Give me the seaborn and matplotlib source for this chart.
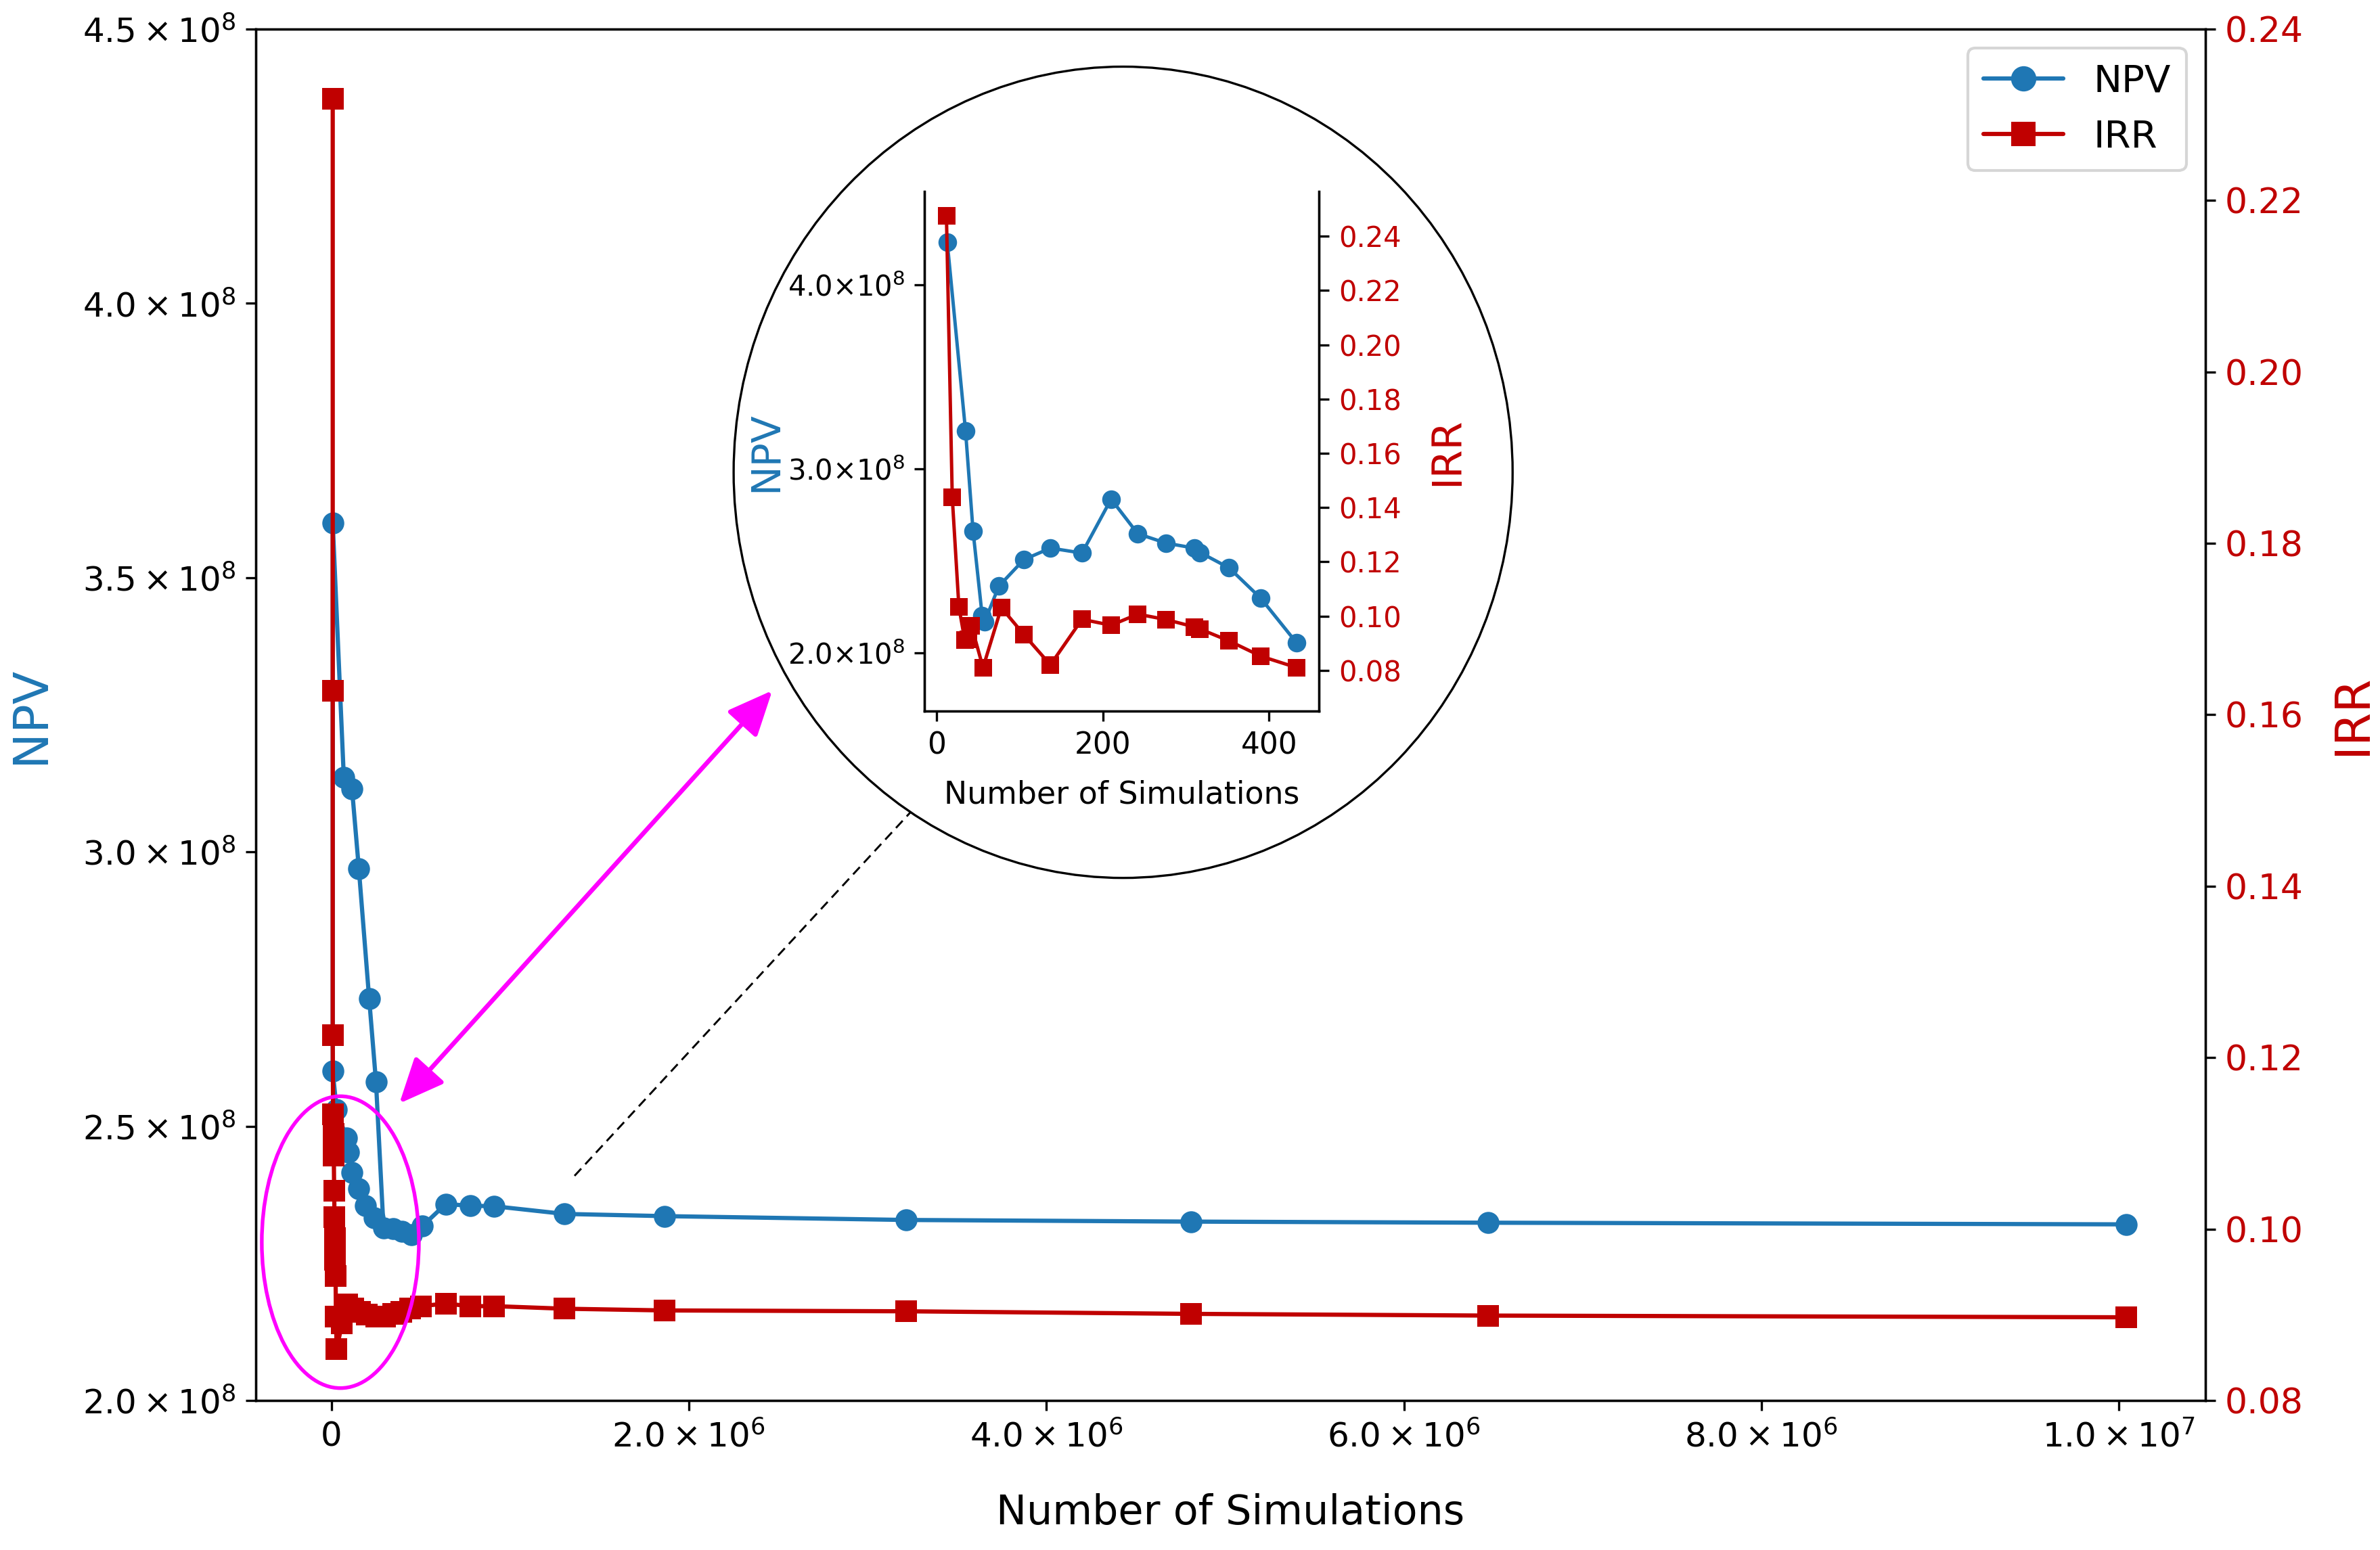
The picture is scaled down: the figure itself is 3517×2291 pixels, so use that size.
import matplotlib
matplotlib.use("Agg")
import matplotlib.pyplot as plt
import seaborn as sns
from matplotlib.patches import Ellipse, FancyArrowPatch
from matplotlib.lines import Line2D

# ---------------- data ----------------
series_names = ["NPV", "IRR"]

# main chart, NPV (points listed in drawing order)
npv_x = [240000, 190000, 154000, 117000, 95000, 85000, 30000, 8000, 8000,
         70000, 116000, 154000, 212000, 250000, 292000, 345000, 395000,
         447000, 510000, 640000, 776000, 912000, 1305000, 1866000, 3215000,
         4810000, 6470000, 10040000]
npv_y = [2.333e8, 2.355e8, 2.386e8, 2.416e8, 2.453e8, 2.478e8, 2.53e8, 2.60e8,
         3.60e8, 3.136e8, 3.115e8, 2.97e8, 2.732e8, 2.581e8, 2.315e8, 2.313e8,
         2.308e8, 2.302e8, 2.318e8, 2.358e8, 2.355e8, 2.354e8, 2.340e8,
         2.336e8, 2.329e8, 2.326e8, 2.324e8, 2.321e8]

# main chart, IRR
irr_x = [8000, 8000, 8000, 10000, 12000, 14000, 16000, 18000, 20000, 22000,
         24000, 26000, 30000, 60000, 90000, 124000, 160000, 200000, 250000,
         300000, 345000, 390000, 440000, 500000, 640000, 776000, 912000,
         1305000, 1866000, 3215000, 4810000, 6470000, 10040000]
irr_y = [0.2319, 0.1628, 0.1226, 0.1134, 0.1111, 0.1086, 0.1045, 0.1014,
         0.0989, 0.0964, 0.0945, 0.0898, 0.0860, 0.0890, 0.0912, 0.0907,
         0.0903, 0.0900, 0.0898, 0.0898, 0.0901, 0.0903, 0.0907, 0.0910,
         0.0913, 0.0910, 0.0910, 0.0907, 0.0905, 0.0904, 0.0901, 0.0899,
         0.0897]

# inset (first ~440 simulations)
inset_npv_x = [13, 35, 44, 55, 58, 75, 105, 137, 175, 210, 242, 276, 310,
               317, 352, 390, 433]
inset_npv_y = [4.23e8, 3.204e8, 2.662e8, 2.20e8, 2.17e8, 2.362e8, 2.506e8,
               2.569e8, 2.542e8, 2.835e8, 2.647e8, 2.596e8, 2.569e8, 2.545e8,
               2.461e8, 2.296e8, 2.054e8]
inset_irr_x = [12, 19, 27, 34, 38, 42, 56, 78, 105, 137, 175, 210, 242, 276,
               310, 317, 352, 390, 433]
inset_irr_y = [0.2476, 0.1438, 0.1033, 0.0912, 0.0915, 0.0965, 0.0810,
               0.1031, 0.0932, 0.0820, 0.0988, 0.0966, 0.1007, 0.0987,
               0.0960, 0.0952, 0.0908, 0.0852, 0.0810]

# ticks and tick labels
x_ticks = [0, 2e6, 4e6, 6e6, 8e6, 1e7]
x_tick_labels = ["0", r"$2.0\times10^{6}$", r"$4.0\times10^{6}$",
                 r"$6.0\times10^{6}$", r"$8.0\times10^{6}$", r"$1.0\times10^{7}$"]
npv_ticks = [2.0e8, 2.5e8, 3.0e8, 3.5e8, 4.0e8, 4.5e8]
npv_tick_labels = [r"$2.0\times10^{8}$", r"$2.5\times10^{8}$", r"$3.0\times10^{8}$",
                   r"$3.5\times10^{8}$", r"$4.0\times10^{8}$", r"$4.5\times10^{8}$"]
irr_ticks = [0.08, 0.10, 0.12, 0.14, 0.16, 0.18, 0.20, 0.22, 0.24]
irr_tick_labels = ["0.08", "0.10", "0.12", "0.14", "0.16", "0.18", "0.20",
                   "0.22", "0.24"]
inset_x_ticks = [0, 200, 400]
inset_x_tick_labels = ["0", "200", "400"]
inset_npv_ticks = [2.0e8, 3.0e8, 4.0e8]
inset_npv_tick_labels = [r"$2.0{\times}10^{8}$", r"$3.0{\times}10^{8}$",
                         r"$4.0{\times}10^{8}$"]
inset_irr_ticks = irr_ticks
inset_irr_tick_labels = irr_tick_labels

x_label = "Number of Simulations"

# ---------------- style ----------------
BLUE = "#1f77b4"
RED = "#c00000"
MAGENTA = "#ff00ff"

sns.set_style("ticks")
plt.rcParams.update({
    "font.family": ["DejaVu Sans"],
    "mathtext.fontset": "dejavusans",
    "axes.edgecolor": "black",
    "axes.labelcolor": "black",
    "text.color": "black",
    "xtick.color": "black",
    "ytick.color": "black",
    "axes.linewidth": 0.8,
    "xtick.major.width": 0.8,
    "ytick.major.width": 0.8,
    "xtick.major.size": 3.5,
    "ytick.major.size": 3.5,
    "xtick.direction": "out",
    "ytick.direction": "out",
})

fig = plt.figure(figsize=(3517 / 300, 2291 / 300), dpi=300)

# ---------------- main axes ----------------
ax = fig.add_axes([0.1075, 0.0965, 0.8191, 0.8847])
ax2 = ax.twinx()

sns.lineplot(x=npv_x, y=npv_y, ax=ax, sort=False, estimator=None,
             errorbar=None, color=BLUE, marker="o", markersize=7.8,
             markeredgecolor=BLUE, markeredgewidth=0, linewidth=1.5,
             legend=False)
sns.lineplot(x=irr_x, y=irr_y, ax=ax2, sort=False, estimator=None,
             errorbar=None, color=RED, marker="s", markersize=7.5,
             markeredgecolor=RED, markeredgewidth=0, linewidth=1.5,
             legend=False)

ax.set_xlim(-0.422e6, 10.483e6)
ax.set_ylim(2.0e8, 4.5e8)
ax2.set_ylim(0.08, 0.24)

ax.set_xticks(x_ticks)
ax.set_xticklabels(x_tick_labels, fontsize=12)
ax.set_yticks(npv_ticks)
ax.set_yticklabels(npv_tick_labels, fontsize=12)
ax2.set_yticks(irr_ticks)
ax2.set_yticklabels(irr_tick_labels, fontsize=12.5, color=RED)

ax.set_xlabel(x_label, fontsize=14.5, labelpad=14)
ax.set_ylabel(series_names[0], fontsize=17, color=BLUE, labelpad=10)
ax2.set_ylabel(series_names[1], fontsize=17, color=RED, labelpad=9)

for a in (ax, ax2):
    for s in a.spines.values():
        s.set_visible(True)
        s.set_color("black")
        s.set_linewidth(0.8)

h_npv = ax.lines[0]
h_irr = ax2.lines[0]
leg = ax2.legend([h_npv, h_irr], series_names, loc="upper right",
                 fontsize=13.5, handlelength=2.1, markerscale=1.15,
                 frameon=True, fancybox=True, edgecolor="0.8",
                 framealpha=0.8, borderaxespad=0.5)

# ---------------- inset "magnifier" ----------------
circle = Ellipse((0.4719, 0.6953), width=0.3273, height=0.5234,
                 transform=fig.transFigure, facecolor="white",
                 edgecolor="black", linewidth=0.8, zorder=2)
fig.add_artist(circle)

axi = fig.add_axes([0.3884, 0.5413, 0.1659, 0.3350])
axi.set_zorder(5)
axi.patch.set_visible(False)
axi2 = axi.twinx()
axi2.set_zorder(6)
axi2.patch.set_visible(False)

sns.lineplot(x=inset_npv_x, y=inset_npv_y, ax=axi, sort=False,
             estimator=None, errorbar=None, color=BLUE, marker="o",
             markersize=6.6, markeredgecolor=BLUE, markeredgewidth=0,
             linewidth=1.2, legend=False)
sns.lineplot(x=inset_irr_x, y=inset_irr_y, ax=axi2, sort=False,
             estimator=None, errorbar=None, color=RED, marker="s",
             markersize=6.3, markeredgecolor=RED, markeredgewidth=0,
             linewidth=1.2, legend=False)

axi.set_xlim(-14.5, 460.2)
axi.set_ylim(1.684e8, 4.505e8)
axi2.set_ylim(0.065, 0.2564)

axi.set_xticks(inset_x_ticks)
axi.set_xticklabels(inset_x_tick_labels, fontsize=10.5)
axi.set_yticks(inset_npv_ticks)
axi.set_yticklabels(inset_npv_tick_labels, fontsize=10)
axi2.set_yticks(inset_irr_ticks)
axi2.set_yticklabels(inset_irr_tick_labels, fontsize=10, color=RED)

axi.set_xlabel(x_label, fontsize=11, labelpad=7)
axi.set_ylabel(series_names[0], fontsize=14, color=BLUE, labelpad=1)
axi2.set_ylabel(series_names[1], fontsize=14.5, color=RED, labelpad=9)

for a in (axi, axi2):
    a.spines["top"].set_visible(False)
    for k in ("left", "right", "bottom"):
        a.spines[k].set_visible(True)
        a.spines[k].set_color("black")
        a.spines[k].set_linewidth(0.8)

# ---------------- annotations ----------------
focus = Ellipse((0.1430, 0.1986), width=0.0660, height=0.1883,
                transform=fig.transFigure, fill=False, edgecolor=MAGENTA,
                linewidth=1.3, zorder=3)
fig.add_artist(focus)

arrow = FancyArrowPatch((0.1678, 0.2881), (0.3245, 0.5545),
                        transform=fig.transFigure,
                        arrowstyle="<|-|>,head_length=0.68,head_width=0.3",
                        mutation_scale=20, color=MAGENTA, linewidth=1.6,
                        shrinkA=0, shrinkB=0, zorder=3)
fig.add_artist(arrow)

guide = Line2D([0.2414, 0.3827], [0.2414, 0.4762], transform=fig.transFigure,
               color="black", linewidth=0.7, linestyle=(0, (5, 3)), zorder=3)
fig.add_artist(guide)

fig.savefig("out.png", dpi=300)
